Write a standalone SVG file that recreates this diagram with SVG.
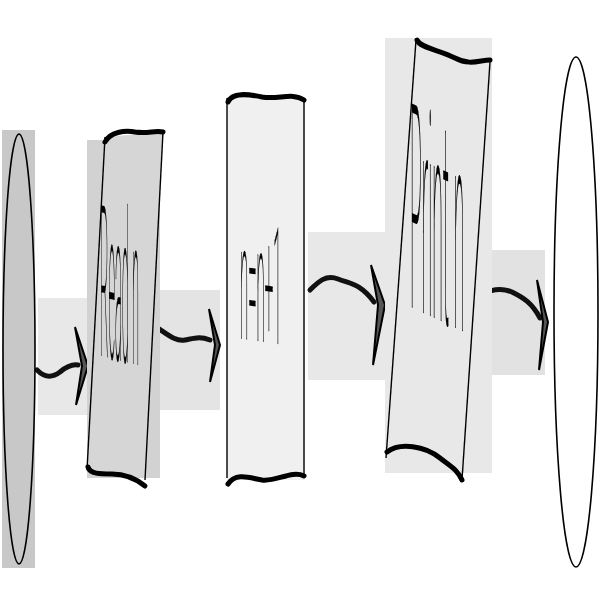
<svg xmlns="http://www.w3.org/2000/svg" width="600" height="600" viewBox="0 0 600 600">
<style>
.edge{fill:none;stroke:#000;stroke-width:1.4}
.wave{fill:none;stroke:#000;stroke-width:5;stroke-linecap:round}
.conn{fill:none;stroke:#111;stroke-width:5;stroke-linecap:round}
.head{fill:#555;stroke:#000;stroke-width:2;stroke-linejoin:miter}
.lbl{font-family:Roboto,"Liberation Sans",Arial,sans-serif;font-weight:100;font-size:30px;fill:#000;stroke:#000;stroke-width:1;vector-effect:non-scaling-stroke}
</style>
<rect width="600" height="600" fill="#fff"/>
<g id="connectors">
  <rect x="38" y="298" width="50" height="117" fill="#e8e8e8"/>
  <rect x="155" y="290" width="65" height="120" fill="#e4e4e4"/>
  <rect x="308" y="232" width="77" height="148" fill="#e8e8e8"/>
  <rect x="478" y="250" width="67" height="125" fill="#e2e2e2"/>
  <path class="conn" d="M37,370 C45,378 52,378 60,372 C66,367 72,364 78,365"/>
  <polygon class="head" points="75,327 88,366 76,405 82,366"/>
  <path class="conn" d="M156,327 C166,333 175,342 185,340 C195,338 200,336 210,340"/>
  <polygon class="head" points="209,309 220,345 210,382 215,345"/>
  <path class="conn" d="M310,290 C318,282 326,274 338,279 C350,284 360,283 374,302"/>
  <polygon class="head" points="371,265 385,305 373,365 378,305"/>
  <path class="conn" d="M481,295 C490,290 500,287 512,292 C524,298 532,303 540,318"/>
  <polygon class="head" points="537,280 548,322 539,370 543,322"/>
</g>
<g id="start">
  <rect x="2" y="130" width="33" height="438" fill="#c8c8c8"/>
  <ellipse cx="19" cy="349" rx="16" ry="215" fill="#c8c8c8" stroke="#000" stroke-width="1.6"/>
</g>
<g id="read">
  <rect x="87" y="140" width="73" height="338" fill="#d2d2d2"/>
  <polygon points="105,137 163,132 145,478 87,470" fill="#d6d6d6"/>
  <line class="edge" x1="105" y1="137" x2="87" y2="470"/>
  <line class="edge" x1="163" y1="132" x2="145" y2="480"/>
  <path class="wave" d="M105,142 C110,132 125,130 135,132 C148,134 155,130 163,132"/>
  <path class="wave" d="M88,467 C90,474 100,474 112,474 C125,474 135,478 145,486"/>
  <text class="lbl" transform="translate(100,355) skewY(14) scale(0.43,7)">Read n</text>
</g>
<g id="process">
  <rect x="227" y="97" width="78" height="383" fill="#f0f0f0"/>
  <line class="edge" x1="227" y1="98" x2="227" y2="478"/>
  <line class="edge" x1="304" y1="98" x2="304" y2="478"/>
  <path class="wave" d="M228,102 C232,92 248,94 262,97 C278,100 292,92 304,100"/>
  <path class="wave" d="M228,484 C236,472 250,478 262,480 C276,482 292,470 304,476"/>
  <text class="lbl" transform="translate(240,338) skewY(8) scale(0.5,5.4)">n=n+1</text>
</g>
<g id="print">
  <rect x="385" y="38" width="107" height="435" fill="#e8e8e8"/>
  <line class="edge" x1="416" y1="40" x2="386" y2="458"/>
  <line class="edge" x1="490" y1="62" x2="462" y2="480"/>
  <path class="wave" d="M417,40 C420,48 440,50 455,58 C470,66 480,60 490,60"/>
  <path class="wave" d="M387,452 C400,442 425,446 440,458 C450,466 458,470 462,480"/>
  <text class="lbl" transform="translate(410,306) skewY(25) scale(0.65,9.5)">Print n</text>
</g>
<g id="end">
  <ellipse cx="576" cy="312" rx="22" ry="255" fill="#fff" stroke="#000" stroke-width="1.6"/>
</g>
</svg>
